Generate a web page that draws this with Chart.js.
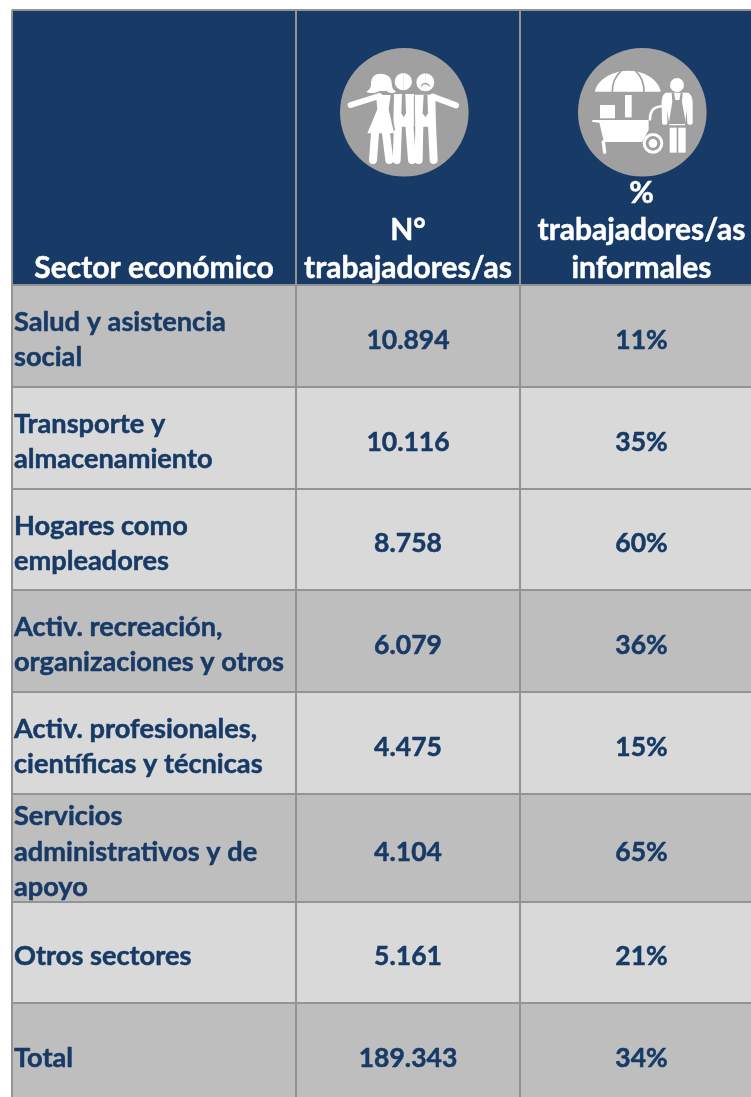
<!DOCTYPE html>
<html lang="es">
<head>
<meta charset="utf-8">
<title>Sector económico</title>
<script src="https://cdn.jsdelivr.net/npm/chart.js@4/dist/chart.umd.min.js"></script>
<style>
  html, body { margin: 0; padding: 0; background: #fff; overflow: hidden; }
  #wrap { width: 751px; height: 1097px; }
</style>
</head>
<body>
<div id="wrap"><canvas id="chart" width="751" height="1097"></canvas></div>
<script>
/* ─── DATA ───────────────────────────────────────────── */
const headers = [
  ["Sector económico"],
  ["N°", "trabajadores/as"],
  ["%", "trabajadores/as", "informales"],
];
const sectors = [
  ["Salud y asistencia", "social"],
  ["Transporte y", "almacenamiento"],
  ["Hogares como", "empleadores"],
  ["Activ. recreación,", "organizaciones y otros"],
  ["Activ. profesionales,", "científicas y técnicas"],
  ["Servicios", "administrativos y de", "apoyo"],
  ["Otros sectores"],
  ["Total"],
];
const workers = [10894, 10116, 8758, 6079, 4475, 4104, 5161, 189343];
const informalPct = [11, 35, 60, 36, 15, 65, 21, 34];

/* ─── TABLE LAYOUT (page pixels) ─────────────────────── */
// the table runs past the right and bottom of the page, so the last edges are off canvas
const colEdges = [12, 296, 520, 763];
const rowEdges = [10, 285, 387, 489, 590, 692, 794, 902, 1003, 1105];
const PAGE_W = 751;
const PAGE_H = 1097;
const iconCentres = [{ x: 404.3, y: 112.3, r: 64.3 }, { x: 642.3, y: 112.3, r: 64.3 }];

const NAVY = "#173a66";
const DARK = "#bebebe";
const LIGHT = "#d9d9d9";
const LINE = "#939393";
const ICON = "#a0a0a0";
const FONT = "Lato, sans-serif";

const rowFills = [DARK, LIGHT, LIGHT, DARK, LIGHT, DARK, LIGHT, DARK];

const fmtThousands = n => String(n).replace(/\B(?=(\d{3})+$)/g, ".");

// one bar dataset per table row, height of the bar = height of the row
const headerRow = {
  type: "bar",
  data: [0, 1, 2].map(c => ({ x: [colEdges[c], colEdges[c + 1]], y: (rowEdges[0] + rowEdges[1]) / 2 })),
  barThickness: rowEdges[1] - rowEdges[0],
  backgroundColor: NAVY,
  grouped: false,
  order: 2,
};
const bodyRows = sectors.map((s, r) => ({
  type: "bar",
  label: s.join(" "),
  data: [0, 1, 2].map(c => ({ x: [colEdges[c], colEdges[c + 1]], y: (rowEdges[r + 1] + rowEdges[r + 2]) / 2 })),
  barThickness: rowEdges[r + 2] - rowEdges[r + 1],
  backgroundColor: rowFills[r],
  grouped: false,
  order: 2,
}));
const iconCircles = {
  type: "scatter",
  data: iconCentres.map(i => ({ x: i.x, y: i.y })),
  pointRadius: iconCentres.map(i => i.r),
  pointHoverRadius: iconCentres.map(i => i.r),
  pointBackgroundColor: ICON,
  pointBorderWidth: 0,
  order: 1,
};

/* ─── ICONS ──────────────────────────────────────────── */
// both drawn in the coordinates of a 3x crop, then scaled down
function stroke(ctx, d, w, color) {
  ctx.strokeStyle = color; ctx.lineWidth = w; ctx.lineCap = "round"; ctx.lineJoin = "round";
  ctx.stroke(new Path2D(d));
}
function fill(ctx, d, color) {
  ctx.fillStyle = color; ctx.fill(new Path2D(d));
}

function drawPeople(ctx, ox, oy) {
  ctx.save();
  ctx.translate(ox, oy);
  ctx.scale(1 / 3, 1 / 3);
  const W = "#fff";
  // woman
  fill(ctx, "M181 131 C158 131 152 150 153 165 C152 176 146 182 138 186 C150 191 168 190 178 183 L200 183 C208 190 218 191 228 185 C218 178 215 170 215 158 C214 142 202 131 181 131Z", W);
  fill(ctx, "M168 195 L212 195 L206 238 L222 310 L142 310 L172 238Z", W);
  stroke(ctx, "M92 225 L178 198", 18, W);
  stroke(ctx, "M165 310 L159 390", 24, W);
  stroke(ctx, "M198 310 L208 390", 24, W);
  // middle man
  fill(ctx, "M250 129 A26 26 0 1 0 250.1 181Z", W);
  fill(ctx, "M250 129 A26 26 0 1 1 249.9 181Z", W);
  fill(ctx, "M222 192 L282 192 L284 290 L220 290Z", W);
  stroke(ctx, "M234 285 L230 390", 24, W);
  stroke(ctx, "M268 285 L276 390", 24, W);
  fill(ctx, "M246 192 L256 192 L258 250 L251 262 L244 250Z", ICON);
  // right man
  fill(ctx, "M316 130 A27 27 0 1 0 316.1 184Z", W);
  fill(ctx, "M316 130 A27 27 0 1 1 315.9 184Z", W);
  fill(ctx, "M284 194 L346 194 L348 290 L286 290Z", W);
  stroke(ctx, "M338 200 L408 226", 18, W);
  stroke(ctx, "M298 285 L296 390", 24, W);
  stroke(ctx, "M336 285 L341 390", 24, W);
  fill(ctx, "M311 194 L322 194 L324 250 L316 262 L308 250Z", ICON);
  stroke(ctx, "M304 168 C310 158 322 158 328 168", 4, ICON);
  // gaps between the figures
  stroke(ctx, "M283 200 L283 290", 3, ICON);
  stroke(ctx, "M212 240 L224 300", 3, ICON);
  stroke(ctx, "M252 300 L253 395", 5, ICON);
  stroke(ctx, "M181 322 L183 395", 5, ICON);
  stroke(ctx, "M317 300 L318 395", 6, ICON);
  ctx.restore();
}

function drawVendor(ctx, ox, oy) {
  ctx.save();
  ctx.translate(ox, oy);
  ctx.scale(1 / 3, 1 / 3);
  const W = "#fff";
  // umbrella
  fill(ctx, "M105 185 C108 155 150 122 205 122 C260 122 298 155 302 185Z", W);
  stroke(ctx, "M182 124 C165 140 156 160 157 187", 5, ICON);
  stroke(ctx, "M228 124 C245 140 253 160 252 187", 5, ICON);
  fill(ctx, "M195 195 L215 195 L215 262 L195 262Z", W);
  // box, cart, leg
  fill(ctx, "M120 225 L165 225 L165 265 L120 265Z", W);
  fill(ctx, "M97 270 L266 270 L266 300 L246 336 L132 336 L118 278 L97 276Z", W);
  stroke(ctx, "M130 336 L134 367", 10, W);
  // handle
  stroke(ctx, "M270 268 C270 240 282 228 315 228", 8, W);
  // wheel
  fill(ctx, "M279 309 A31 31 0 1 0 279.1 371Z", W);
  fill(ctx, "M279 309 A31 31 0 1 1 278.9 371Z", W);
  fill(ctx, "M279 318 A22 22 0 1 0 279.1 362Z", ICON);
  fill(ctx, "M279 318 A22 22 0 1 1 278.9 362Z", ICON);
  fill(ctx, "M279 327 A13 13 0 1 0 279.1 353Z", W);
  fill(ctx, "M279 327 A13 13 0 1 1 278.9 353Z", W);
  // vendor
  fill(ctx, "M351 144 A21 21 0 1 0 351.1 186Z", W);
  fill(ctx, "M351 144 A21 21 0 1 1 350.9 186Z", W);
  fill(ctx, "M318 188 L384 188 C394 192 398 205 398 220 L398 278 C398 286 382 286 382 278 L380 240 L375 286 L328 286 L322 240 L322 278 C322 286 306 286 306 278 L305 220 C305 205 308 192 318 188Z", W);
  fill(ctx, "M342 188 L346 210 L358 210 L362 188 L368 190 L366 215 L378 282 L326 282 L337 215 L335 190Z", ICON);
  fill(ctx, "M329 293 L350 293 L350 368 L329 368Z", W);
  fill(ctx, "M355 293 L377 293 L377 368 L355 368Z", W);
  ctx.restore();
}

/* ─── TEXT + ICONS PLUGIN ────────────────────────────── */
// Lato bold is a little lighter than the original, so a thin outline goes over it
function boldText(ctx, txt, x, y) {
  ctx.fillText(txt, x, y);
  ctx.strokeText(txt, x, y);
}

const tablePlugin = {
  id: "tableText",
  afterDatasetsDraw(chart) {
    const { ctx, scales: { x, y } } = chart;
    const px = v => x.getPixelForValue(v);
    const py = v => y.getPixelForValue(v);
    ctx.save();
    drawPeople(ctx, px(320), py(30));
    drawVendor(ctx, px(560), py(30));

    ctx.textBaseline = "middle";
    ctx.lineWidth = 0.5;
    ctx.lineJoin = "round";

    // header, sits on the bottom of its cell
    ctx.font = "700 30px " + FONT;
    ctx.fillStyle = "#fff";
    ctx.strokeStyle = "#fff";
    ctx.textAlign = "center";
    headers.forEach((lines, c) => {
      const cx = px((colEdges[c] + colEdges[c + 1]) / 2);
      lines.forEach((ln, i) => {
        boldText(ctx, ln, cx, py(rowEdges[1]) - 17 - (lines.length - 1 - i) * 37.5);
      });
    });

    // body
    ctx.fillStyle = NAVY;
    ctx.strokeStyle = NAVY;
    sectors.forEach((lines, r) => {
      const mid = py((rowEdges[r + 1] + rowEdges[r + 2]) / 2) + 4;
      ctx.font = "700 27.2px " + FONT;
      ctx.textAlign = "left";
      lines.forEach((ln, i) => {
        boldText(ctx, ln, px(colEdges[0]) + 2, mid + (i - (lines.length - 1) / 2) * 35.3);
      });
      ctx.font = "700 26.5px " + FONT;
      ctx.textAlign = "center";
      boldText(ctx, fmtThousands(workers[r]), px((colEdges[1] + colEdges[2]) / 2), mid);
      boldText(ctx, informalPct[r] + "%", px((colEdges[2] + colEdges[3]) / 2), mid);
    });
    ctx.restore();
  },
};

/* ─── CHART ──────────────────────────────────────────── */
new Chart(document.getElementById("chart"), {
  data: { datasets: [headerRow, ...bodyRows, iconCircles] },
  plugins: [tablePlugin],
  options: {
    indexAxis: "y",
    responsive: false,
    animation: false,
    events: [],
    layout: { autoPadding: false, padding: { left: colEdges[0], top: rowEdges[0], right: 0, bottom: 0 } },
    plugins: { legend: { display: false }, tooltip: { enabled: false }, title: { display: false } },
    scales: {
      x: {
        type: "linear",
        offset: false,
        min: colEdges[0],
        max: PAGE_W,
        afterBuildTicks: s => { s.ticks = colEdges.map(value => ({ value })); },
        ticks: { display: false },
        border: { display: false },
        grid: { color: LINE, lineWidth: 2, z: 1, drawTicks: false, offset: false },
      },
      y: {
        type: "linear",
        reverse: true,
        offset: false,
        min: rowEdges[0],
        max: PAGE_H,
        afterBuildTicks: s => { s.ticks = rowEdges.map(value => ({ value })); },
        ticks: { display: false },
        border: { display: false },
        grid: { color: LINE, lineWidth: 2, z: 1, drawTicks: false, offset: false },
      },
    },
  },
});
</script>
</body>
</html>
